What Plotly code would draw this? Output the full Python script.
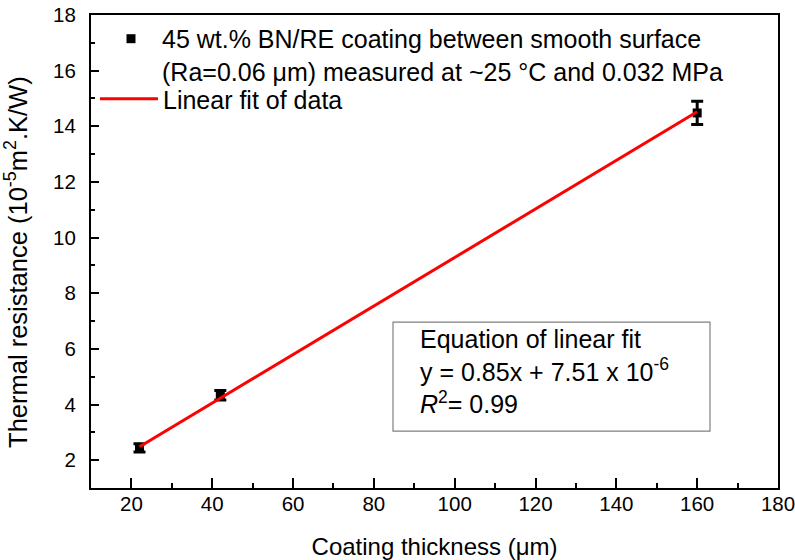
import plotly.graph_objects as go

# ---- data ----
thickness = [22, 42, 160]            # coating thickness (um)
resistance = [2.44, 4.33, 14.48]     # thermal resistance (1e-5 m2.K/W)
resistance_err = [0.15, 0.17, 0.42]
fit_x = [22, 160]
fit_y = [2.48, 14.52]

x_ticks = [20, 40, 60, 80, 100, 120, 140, 160, 180]
y_ticks = [2, 4, 6, 8, 10, 12, 14, 16, 18]

series_name = ("45 wt.% BN/RE coating between smooth surface<br>"
               "(Ra=0.06 μm) measured at ~25 °C and 0.032 MPa")
fit_name = "Linear fit of data"
fit_text = ("Equation of linear fit<br>"
            "y = 0.85x + 7.51 x 10<sup>-6</sup><br>"
            "<i>R</i><sup>2</sup>= 0.99")
y_title = "Thermal resistance (10<sup>-5</sup>m<sup>2</sup>.K/W)&nbsp;&nbsp;&nbsp;"
x_title = "Coating thickness (μm)"

FONT = "Liberation Sans, Arial, sans-serif"

fig = go.Figure()
fig.add_trace(go.Scatter(
    x=thickness, y=resistance, mode="markers", name=series_name,
    marker=dict(symbol="square", size=9, color="black"),
    error_y=dict(type="data", array=resistance_err, color="black",
                 thickness=3, width=6),
    legend="legend",
))
fig.add_trace(go.Scatter(
    x=fit_x, y=fit_y, mode="lines", name=fit_name,
    line=dict(color="red", width=3),
    legend="legend2",
))

axis_common = dict(
    ticks="inside", tickwidth=2, tickcolor="black",
    showline=True, linewidth=2, linecolor="black", mirror=True,
    showgrid=False, zeroline=False, automargin=False,
    ticklabeloverflow="allow",
    tickfont=dict(family=FONT, size=20.5, color="black"),
)

legend_common = dict(
    xanchor="left", yanchor="top",
    bgcolor="rgba(0,0,0,0)", borderwidth=0, valign="top",
    font=dict(family=FONT, size=25, color="black"),
)

fig.update_layout(
    width=795, height=560,
    margin=dict(l=91, r=17, t=15, b=72),
    plot_bgcolor="white", paper_bgcolor="white",
    font=dict(family=FONT, size=24, color="black"),
    xaxis=dict(
        range=[10, 180], tickvals=x_ticks, ticklen=10,
        minor=dict(ticks="inside", ticklen=5, tickwidth=2,
                   tickcolor="black", dtick=10, tick0=0, showgrid=False),
        ticklabelstandoff=-4,
        title=dict(text=x_title, standoff=29, font=dict(size=24)),
        **axis_common,
    ),
    yaxis=dict(
        range=[1, 18], tickvals=y_ticks, ticklen=8,
        minor=dict(ticks="inside", ticklen=4, tickwidth=2,
                   tickcolor="black", dtick=1, tick0=0, showgrid=False),
        ticklabelstandoff=9,
        title=dict(text=y_title, standoff=30, font=dict(size=25.5)),
        **axis_common,
    ),
    legend=dict(x=0.0131, y=0.998, itemwidth=52, **legend_common),
    legend2=dict(x=0.0058, y=0.871, itemwidth=58, **legend_common),
    showlegend=True,
)

fig.add_shape(type="rect", xref="paper", yref="paper",
              x0=0.4396, x1=0.901, y0=0.1204, y1=0.3506,
              line=dict(color="#808080", width=1.2))
fig.add_annotation(xref="paper", yref="paper", x=0.476, y=0.246,
                   xanchor="left", yanchor="middle", align="left",
                   showarrow=False, text=fit_text,
                   font=dict(family=FONT, size=25, color="black"))

fig.write_html(
    "out.html",
    config={"displayModeBar": False},
    post_script="document.body.style.margin='0';"
                "document.body.style.overflow='hidden';",
)
